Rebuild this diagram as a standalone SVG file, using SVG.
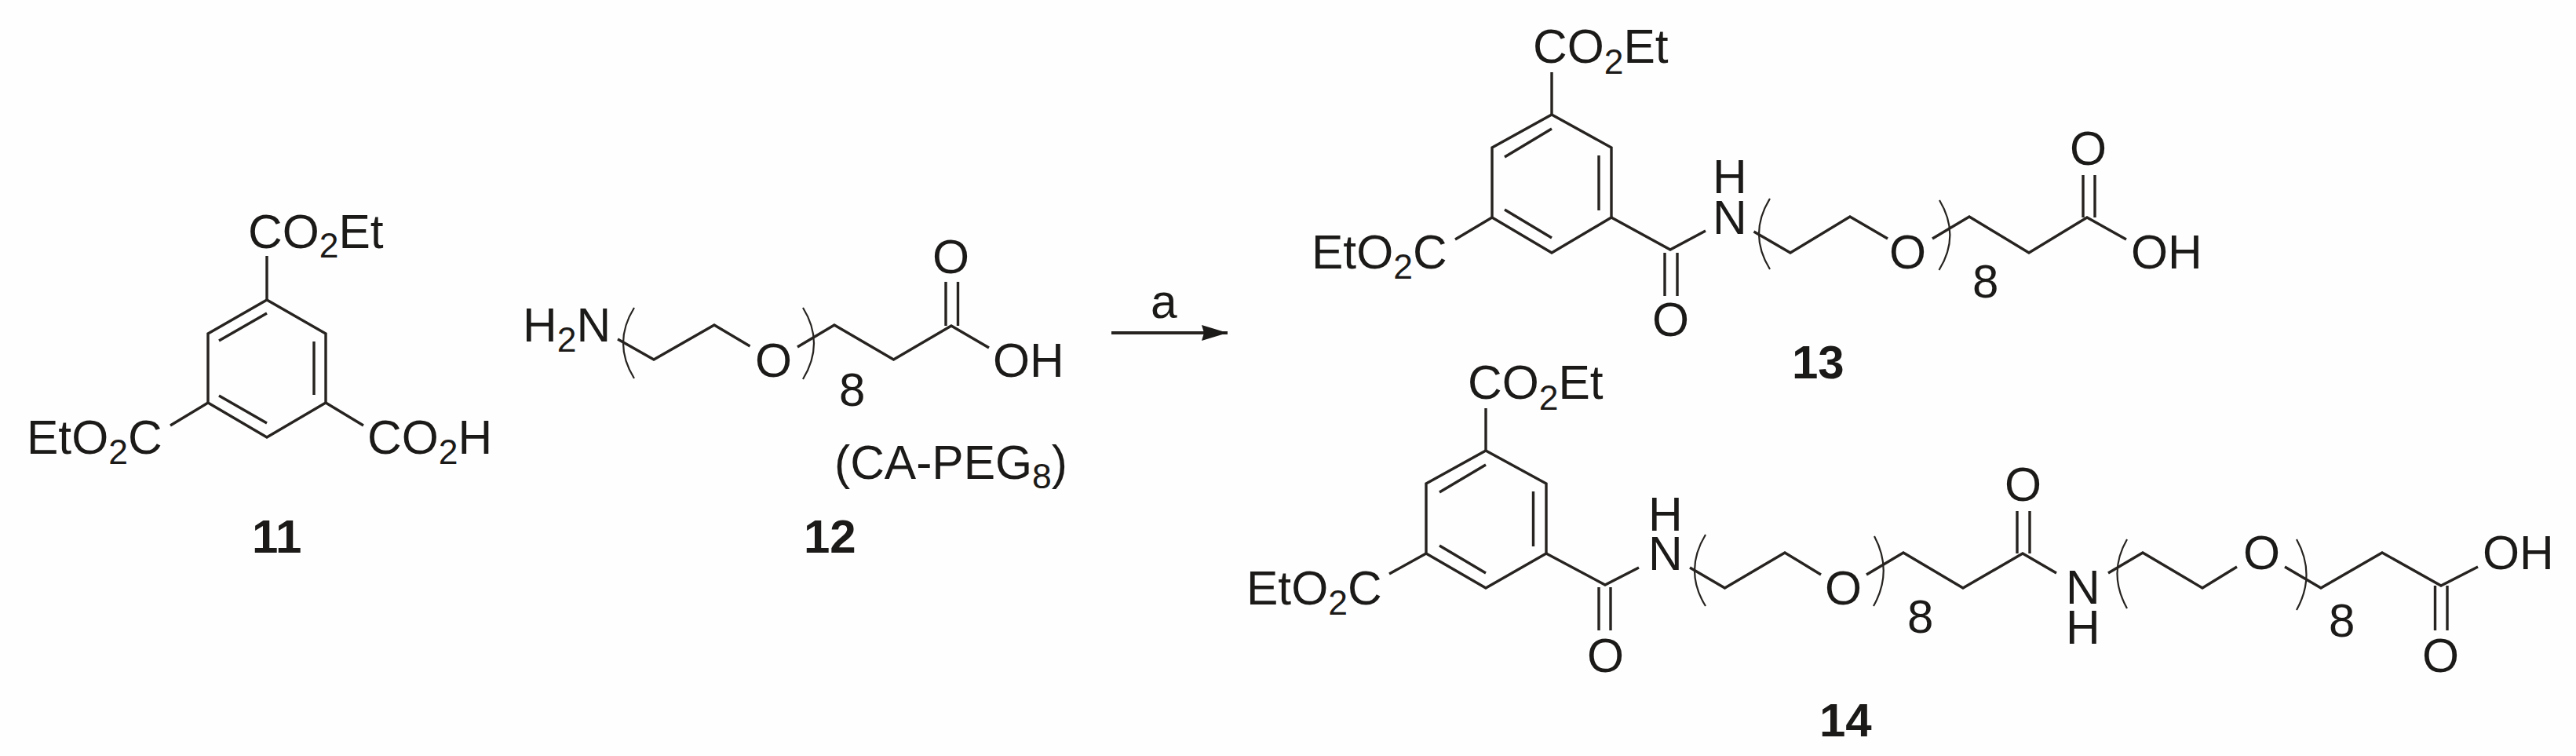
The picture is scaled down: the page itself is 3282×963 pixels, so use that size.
<svg xmlns="http://www.w3.org/2000/svg" width="3282" height="963" viewBox="0 0 3282 963">
<style>
text{font-family:"Liberation Sans",Arial,sans-serif;font-size:60.5px;fill:#1c1a18}
.s{font-size:44.5px}
.l{font-weight:bold;font-size:60px}
.b{fill:none;stroke:#262320;stroke-width:3.4;stroke-linejoin:miter;stroke-linecap:butt}
.p{fill:none;stroke:#262320;stroke-width:2.2}
</style>
<defs>
<marker id="head" markerUnits="userSpaceOnUse" markerWidth="36" markerHeight="22" refX="33" refY="10" orient="auto">
<path d="M0 0L33 10L0 20L3 10Z" fill="#1c1a18"/>
</marker>
</defs>
<rect width="3282" height="963" fill="#fefefe"/>
<g id="compound-11">
<path class="b" d="M340 382L415 425V513L340 557L265 513V425Z"/>
<path class="b" d="M279 434L340 399M400 435V503M279 504L340 539M340 326V382M265 513L217 542M415 513L463 542"/>
<text x="316" y="316">CO<tspan class="s" dy="12">2</tspan><tspan dy="-12">Et</tspan></text>
<text x="34" y="578">EtO<tspan class="s" dy="13">2</tspan><tspan dy="-13">C</tspan></text>
<text x="468" y="578">CO<tspan class="s" dy="13">2</tspan><tspan dy="-13">H</tspan></text>
<text class="l" x="321" y="704">11</text>
</g>
<g id="compound-12">
<path class="b" d="M787 432L833 458L910 414L955.500 441M1016 442L1063 414L1138.500 458L1212 415L1260 443"/>
<path class="b" d="M1205 415V359M1220.500 415V359"/>
<path class="p" d="M808 392Q780 437 808 482M1023 392Q1051 437 1023 483"/>
<text x="666" y="435">H<tspan class="s" dy="13">2</tspan><tspan dy="-13">N</tspan></text>
<text x="962" y="480">O</text>
<text x="1188" y="348">O</text>
<text x="1265" y="480">OH</text>
<text class="s" x="1069" y="517" style="font-size:60px">8</text>
<text x="1063" y="610">(CA-PEG<tspan class="s" dy="12">8</tspan><tspan dy="-12">)</tspan></text>
<text class="l" x="1024" y="704">12</text>
</g>
<g id="connectors">
<line x1="1416" y1="424" x2="1564" y2="424" stroke="#262320" stroke-width="4" marker-end="url(#head)"/>
<text x="1466" y="405">a</text>
</g>
<g id="compound-13">
<path class="b" d="M1977 146L2053 188V277L1977 322L1901 277V188Z"/>
<path class="b" d="M1917 200L1977 164M2037 198V268M1917 267L1977 303M1977 92V146M1901 277L1854 305M2053 277L2128 318L2173 294M2121 322V377M2137 322V377"/>
<path class="b" d="M2234.500 295L2281 322L2357 276L2405 304M2462 304L2509 276L2585 322L2659 277L2709 305M2654 277V223M2669 277V223"/>
<path class="p" d="M2255 253Q2227 298 2255 343M2471 255Q2498 300 2470.500 344"/>
<text x="1953" y="80">CO<tspan class="s" dy="14">2</tspan><tspan dy="-14">Et</tspan></text>
<text x="1671" y="342">EtO<tspan class="s" dy="13">2</tspan><tspan dy="-13">C</tspan></text>
<text x="2105" y="428">O</text>
<text x="2182" y="246">H</text>
<text x="2182" y="298">N</text>
<text x="2407" y="342">O</text>
<text x="2637" y="210">O</text>
<text x="2715" y="342">OH</text>
<text x="2513" y="379" style="font-size:60px">8</text>
<text class="l" x="2283" y="482">13</text>
</g>
<g id="compound-14">
<path class="b" d="M1893 574L1970 616V705L1893 749L1817 705V616Z"/>
<path class="b" d="M1834 627L1893 592M1953.500 626V696M1834 695L1893 730M1893 520V574M1817 705L1770 731M1970 705L2045 745L2088 723M2037 748V803M2052 748V803"/>
<path class="b" d="M2153 723L2197.500 749L2274 704L2320 732M2378 732L2425 704L2501 749L2577 705L2620 730M2570 705V651M2586 705V651"/>
<path class="b" d="M2686 730L2730 704L2806 749L2850 722M2911 722L2957 749L3035 704L3110 746L3157 722M3102.500 746V803M3118 746V803"/>
<path class="p" d="M2173 681Q2145 727 2173 772M2388 683Q2412 728 2387 772M2710 687Q2685 730 2710 775M2926 687Q2951 732 2926 777"/>
<text x="1870" y="508">CO<tspan class="s" dy="14">2</tspan><tspan dy="-14">Et</tspan></text>
<text x="1588" y="770">EtO<tspan class="s" dy="13">2</tspan><tspan dy="-13">C</tspan></text>
<text x="2022" y="856">O</text>
<text x="2100" y="676">H</text>
<text x="2100" y="726">N</text>
<text x="2325" y="770">O</text>
<text x="2554" y="638">O</text>
<text x="2632" y="769">N</text>
<text x="2632" y="820">H</text>
<text x="2858" y="725">O</text>
<text x="3163" y="725">OH</text>
<text x="3086" y="856">O</text>
<text x="2430" y="806" style="font-size:60px">8</text>
<text x="2967" y="811" style="font-size:60px">8</text>
<text class="l" x="2318" y="938">14</text>
</g>
</svg>
